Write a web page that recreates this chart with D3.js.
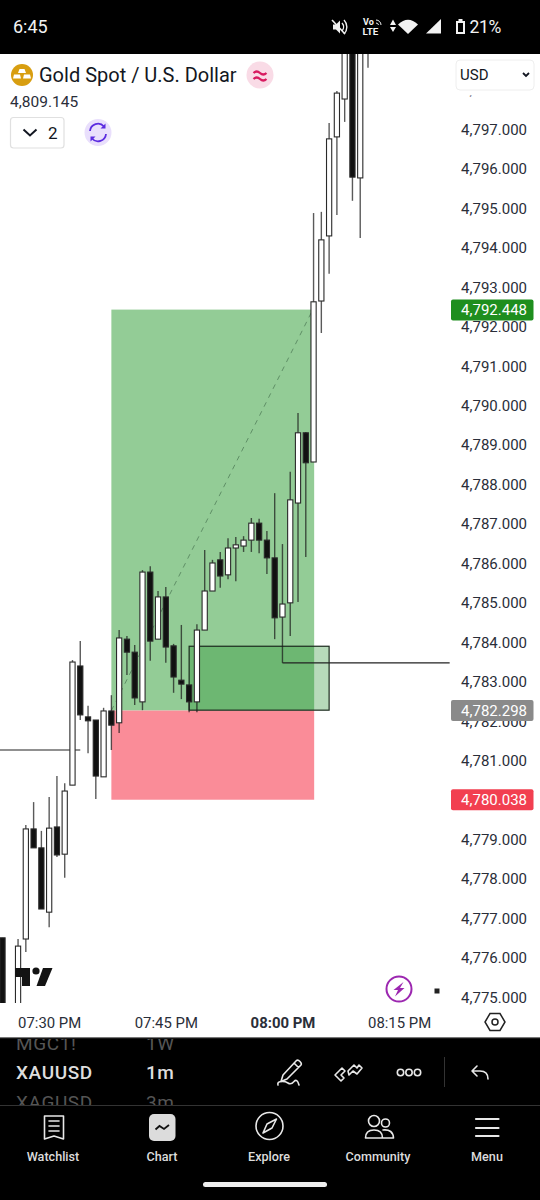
<!DOCTYPE html>
<html><head><meta charset="utf-8">
<script src="https://cdn.jsdelivr.net/npm/d3@7/dist/d3.min.js"></script>
<style>
html,body{margin:0;padding:0;background:#fff;width:540px;height:1200px;overflow:hidden}
svg{display:block}
text{font-family:Roboto,sans-serif}
</style></head><body>
<svg id="c" width="540" height="1200"></svg>
<script>
const opens =[4776.50,4774.00,4774.40,4776.47,4779.26,4778.78,4777.15,4779.31,4778.62,4780.37,4783.39,4782.10,4782.02,4780.58,4782.25,4781.95,4784.07,4783.74,4782.48,4785.77,4784.07,4785.14,4783.90,4783.03,4782.91,4782.48,4784.30,4785.29,4786.08,4785.70,4786.38,4786.43,4786.58,4787.01,4786.58,4786.13,4784.63,4784.99,4787.52,4789.30,4788.56,4792.64,4794.29,4796.80,4797.76,4799.30,4795.76,4799.50];
const highs =[4776.50,4774.40,4776.47,4779.36,4779.94,4779.21,4780.07,4780.60,4780.42,4783.54,4784.02,4782.38,4782.02,4782.33,4782.65,4784.30,4784.15,4783.92,4785.82,4785.92,4785.29,4785.39,4783.95,4784.43,4782.91,4784.45,4786.33,4786.08,4786.28,4786.63,4786.66,4786.68,4787.14,4787.12,4786.81,4787.77,4786.48,4788.31,4789.80,4789.32,4794.87,4794.90,4797.15,4797.96,4799.20,4799.50,4799.60,4800.00];
const lows  =[4774.67,4773.50,4774.30,4776.14,4778.78,4777.23,4776.77,4778.55,4778.02,4780.37,4782.02,4781.18,4780.02,4780.58,4781.26,4781.69,4783.16,4782.40,4782.27,4783.52,4784.07,4783.47,4782.71,4782.55,4782.22,4782.22,4784.30,4785.29,4785.37,4785.59,4785.54,4786.28,4786.28,4786.25,4785.72,4784.07,4783.47,4784.15,4785.01,4786.15,4788.56,4791.83,4793.33,4794.82,4797.18,4795.18,4794.24,4798.55];
const closes=[4774.67,4774.30,4776.29,4779.26,4778.78,4777.23,4779.28,4778.60,4780.22,4783.49,4782.15,4782.00,4780.60,4782.25,4781.89,4784.10,4783.74,4782.58,4785.77,4784.02,4785.14,4783.87,4783.11,4782.93,4782.48,4784.30,4785.29,4786.00,4785.67,4786.38,4786.46,4786.58,4787.01,4786.58,4786.13,4784.61,4784.96,4787.60,4789.30,4788.54,4792.62,4794.19,4796.75,4797.91,4799.00,4795.78,4799.20,4799.90];
const startMinute = 19*60+24;            // first candle: 07:24 PM, 1-minute bars
const yTicks = [4775,4776,4777,4778,4779,4780,4781,4782,4783,4784,4785,4786,4787,4788,4789,4790,4791,4792,4793,4794,4795,4796,4797,4798];
const xTickMinutes = [19*60+30,19*60+45,20*60,20*60+15];
const boldMinute = 20*60;
const targetPrice = 4792.448, entryPrice = 4782.298, stopPrice = 4780.038;
const posStartMin = 19*60+38, posEndMin = 20*60+4;
const boxTop = 4783.89, boxBottom = 4782.27, boxStartMin = 19*60+48, boxEndMin = 20*60+6;
const rayRightPrice = 4783.47, rayRightStart = 20*60, rayRightEnd = 20*60+21.5;
const rayLeftPrice = 4781.26, rayLeftStart = 19*60+15, rayLeftEnd = 19*60+34;
const symbolTitle="Gold Spot / U.S. Dollar", lastPrice="4,809.145";

const day = m => new Date(2026,0,15,Math.floor(m/60),m%60,(m%1)*60);
const x = d3.scaleTime().domain([day(startMinute),day(startMinute+47)]).range([2.5,368]);
const y = d3.scaleLinear().domain([4775,4797]).range([997,129]);
const fmt = d3.format(",.3f");
const svg = d3.select("#c");
svg.append("rect").attr("width",540).attr("height",1200).attr("fill","#fff");
const defs = svg.append("defs");
defs.append("clipPath").attr("id","cp").append("rect").attr("x",0).attr("y",54).attr("width",450).attr("height",949);
defs.append("clipPath").attr("id","cp2").append("rect").attr("x",0).attr("y",1039).attr("width",540).attr("height",66);

const off = 1.5;
const chart = svg.append("g").attr("clip-path","url(#cp)");
const px = m=>x(day(m));
const posW = px(posEndMin)-px(posStartMin)+0.6;
// position tool
chart.append("rect").attr("x",px(posStartMin)).attr("width",posW)
 .attr("y",y(targetPrice)+off-0.5).attr("height",y(entryPrice)-y(targetPrice)+0.5).attr("fill","#93cc96");
chart.append("rect").attr("x",px(posStartMin)).attr("width",posW)
 .attr("y",y(entryPrice)+off).attr("height",y(stopPrice)-y(entryPrice)).attr("fill","#fa8c98");
chart.append("line").attr("x1",px(posStartMin)).attr("x2",px(posEndMin)-1)
 .attr("y1",y(entryPrice)+off).attr("y2",y(targetPrice)+off)
 .attr("stroke","#5f8f66").attr("stroke-width",1).attr("stroke-dasharray","5,5");
// order block box
chart.append("rect").attr("x",px(boxStartMin)).attr("width",px(boxEndMin)-px(boxStartMin))
 .attr("y",y(boxTop)).attr("height",y(boxBottom)-y(boxTop))
 .attr("fill","rgba(30,140,40,0.32)").attr("stroke","#1c2a1e").attr("stroke-width",1.2);
// rays
chart.append("line").attr("x1",px(rayRightStart)).attr("x2",px(rayRightEnd)).attr("y1",y(rayRightPrice)).attr("y2",y(rayRightPrice)).attr("stroke","#222").attr("stroke-width",1.2);
chart.append("line").attr("x1",px(rayLeftStart)).attr("x2",px(rayLeftEnd)).attr("y1",y(rayLeftPrice)).attr("y2",y(rayLeftPrice)).attr("stroke","#222").attr("stroke-width",1.2);
// candles
const candles = opens.map((o,i)=>({t:day(startMinute+i),o,h:highs[i],l:lows[i],c:closes[i]}));
const g = chart.selectAll("g.k").data(candles).join("g").attr("class","k");
g.append("line").attr("x1",d=>x(d.t)).attr("x2",d=>x(d.t)).attr("y1",d=>y(d.h)).attr("y2",d=>y(d.l))
 .attr("stroke","#1a1a1a").attr("stroke-opacity",0.72).attr("stroke-width",1.4);
g.append("rect").attr("x",d=>x(d.t)-2.6).attr("width",5.2)
 .attr("y",d=>y(Math.max(d.o,d.c))).attr("height",d=>Math.max(1,Math.abs(y(d.o)-y(d.c))))
 .attr("fill",d=>d.c>=d.o?"#fff":"#111").attr("stroke","#2a2a2a").attr("stroke-width",1.1);

// TV logo
const logo = svg.append("g").attr("fill","#131313");
logo.append("path").attr("d","M15 968H30V986H22V977H15Z");
logo.append("circle").attr("cx",36).attr("cy",971).attr("r",3.6);
logo.append("path").attr("d","M43 968H52.5L45 986H36.5Z");

// axes
const ya = svg.append("g").attr("transform","translate(527,0.5)")
 .call(d3.axisRight(y).tickValues(yTicks).tickSize(0).tickPadding(0).tickFormat(fmt));
ya.select(".domain").remove();
ya.selectAll("text").attr("text-anchor","end").attr("font-family","Roboto").attr("font-size",15).attr("fill","#2a2e39");

const xa = svg.append("g").attr("transform","translate(0,1017)")
 .call(d3.axisBottom(x).tickValues(xTickMinutes.map(day)).tickSize(0).tickPadding(0).tickFormat(d3.timeFormat("%I:%M %p")));
xa.select(".domain").remove();
xa.selectAll("text").attr("font-family","Roboto").attr("font-size",14.9).attr("fill","#2a2e39")
 .attr("font-weight",d=>d.getHours()*60+d.getMinutes()===boldMinute?700:400);

// price tags
const tags=[[targetPrice,"#1e8e1e","#fff"],[entryPrice,"#8a8a8a","#fff"],[stopPrice,"#f23f50","#fff"]];
tags.forEach(([v,col,tc])=>{
 const cy=y(v)+off;
 svg.append("rect").attr("x",451).attr("y",cy-10.5).attr("width",82.5).attr("height",21).attr("rx",2).attr("fill",col);
 svg.append("text").attr("x",527).attr("y",cy+5.2).attr("text-anchor","end").attr("font-size",15).attr("fill",tc).text(fmt(v));
});

// top black bar
svg.append("rect").attr("width",540).attr("height",54).attr("fill","#000");
const W="#f2f2f2";
svg.append("text").attr("x",13).attr("y",33).attr("font-size",18).attr("fill",W).text("6:45");
// status icons
const st=svg.append("g").attr("fill",W).attr("stroke","none");
st.append("path").attr("d","M333 24.5h3l4-4v13l-4-4h-3z");
st.append("path").attr("d","M342 23a6 6 0 0 1 0 8M344 20a10 10 0 0 1 0 14").attr("fill","none").attr("stroke",W).attr("stroke-width",1.4);
st.append("line").attr("x1",332).attr("y1",20).attr("x2",345).attr("y2",34).attr("stroke",W).attr("stroke-width",1.6);
svg.append("text").attr("x",363).attr("y",25).attr("font-size",9).attr("font-weight",700).attr("fill",W).text("Vo");
svg.append("path").attr("d","M376 20a5 5 0 0 1 5 5M376 23a2.5 2.5 0 0 1 2.5 2").attr("fill","none").attr("stroke",W).attr("stroke-width",1);
svg.append("text").attr("x",362.5).attr("y",35).attr("font-size",9.8).attr("font-weight",700).attr("fill",W).text("LTE");
st.append("path").attr("d","M393 25l-3 0 3-5.5 3 5.5zM393 32l-3-5 6 0z");
st.append("path").attr("d","M398 24.5Q408 15 418 24.5L408 34Z");
st.append("path").attr("d","M426 33.5L441 19V33.5Z");
st.append("path").attr("d","M456 21h2.500v-2h4v2h2.500v13h-9zM458 23v9h5v-9z");
svg.append("text").attr("x",469.500).attr("y",33).attr("font-size",17.500).attr("letter-spacing",-0.300).attr("fill",W).text("21%");

// header
svg.append("circle").attr("cx",22).attr("cy",75).attr("r",11).attr("fill","#d89e10");
svg.append("path").attr("d","M19.5 69h5l1.5 4h-8zM14 74.5h6l1 4h-8zM24 74.5h6l1 4h-8z").attr("fill","#fff");
svg.append("text").attr("x",39).attr("y",82).attr("font-size",20).attr("fill","#131722").text(symbolTitle);
svg.append("circle").attr("cx",260).attr("cy",75).attr("r",13.5).attr("fill","#f9dbe6");
svg.append("path").attr("d","M253.5 73q3.2-3 6.5 0t6.5 0M253.5 79q3.2-3 6.5 0t6.5 0").attr("fill","none").attr("stroke","#d81b60").attr("stroke-width",2.2);
svg.append("text").attr("x",10).attr("y",107).attr("font-size",15.5).attr("fill","#2a2e39").text(lastPrice);
svg.append("rect").attr("x",10.5).attr("y",117.5).attr("width",53.5).attr("height",30.5).attr("rx",3).attr("fill","#fff").attr("stroke","#e0e0e0").attr("stroke-width",1.2);
svg.append("path").attr("d","M23.5 129.5l6.5 6 6.5-6").attr("fill","none").attr("stroke","#131722").attr("stroke-width",2);
svg.append("text").attr("x",48).attr("y",138.5).attr("font-size",17).attr("fill","#131722").text("2");
svg.append("circle").attr("cx",98).attr("cy",132.5).attr("r",13.5).attr("fill","#e9dffc");
svg.append("path").attr("d","M90 131a8 8 0 0 1 14-4.5M106 134a8 8 0 0 1-14 4.5").attr("fill","none").attr("stroke","#5b2be0").attr("stroke-width",1.8);
svg.append("path").attr("d","M105.5 123.5v5h-5zM90.5 141.5v-5h5z").attr("fill","#5b2be0");
// USD box (its white surround hides the upper tick label, leaving only the comma tail)
svg.append("rect").attr("x",452).attr("y",54).attr("width",88).attr("height",41.500).attr("fill","#fff");
svg.append("rect").attr("x",456).attr("y",60).attr("width",78).attr("height",30).attr("rx",4).attr("fill","#fff").attr("stroke","#eeeeee");
svg.append("text").attr("x",460).attr("y",80).attr("font-size",15).attr("fill","#131722").text("USD");
svg.append("path").attr("d","M523 73l3 3 3-3").attr("fill","none").attr("stroke","#131722").attr("stroke-width",1.8);

// lightning + square + hex
svg.append("circle").attr("cx",399).attr("cy",989).attr("r",12.5).attr("fill","#fff").attr("stroke","#9c27b0").attr("stroke-width",2);
svg.append("path").attr("d","M403.5 982l-10 8h4.5l-3 6.5 9.5-8.5h-4.5z").attr("fill","#9c27b0");
svg.append("rect").attr("x",434.5).attr("y",988.5).attr("width",5).attr("height",5).attr("fill","#222");
svg.append("path").attr("d","M490 1013.5h10l5 8.5-5 8.5h-10l-5-8.5z").attr("fill","none").attr("stroke","#222").attr("stroke-width",1.5);
svg.append("circle").attr("cx",495).attr("cy",1022).attr("r",3).attr("fill","none").attr("stroke","#222").attr("stroke-width",1.5);

// bottom
svg.append("rect").attr("y",1037).attr("width",540).attr("height",163).attr("fill","#000");
svg.append("rect").attr("y",1037).attr("width",540).attr("height",1.2).attr("fill","#777");
const sel=svg.append("g").attr("clip-path","url(#cp2)");
const pick=[["MGC1!","1W",1050,"#555",400],["XAUUSD","1m",1079,"#ddd",500],["XAGUSD","3m",1108.500,"#555",400]];
pick.forEach(([a,b,yy,c,w])=>{
 sel.append("text").attr("x",16).attr("y",yy).attr("font-size",19).attr("letter-spacing",0.6).attr("font-weight",w).attr("fill",c).text(a);
 sel.append("text").attr("x",146).attr("y",yy).attr("font-size",19).attr("letter-spacing",0.5).attr("font-weight",w).attr("fill",c).text(b);
});
const ic=svg.append("g").attr("fill","none").attr("stroke","#e8e8e8").attr("stroke-width",1.6).attr("stroke-linecap","round").attr("stroke-linejoin","round");
// pencil
ic.append("path").attr("d","M283 1075l-2 6.500 6-2.500 14-14q1-1.500-1-3.500t-3.500-1zM294 1063l4.500 4.500");
ic.append("path").attr("d","M278 1085q-1-3 3-3.500t7 1.500 6-1.500 5 3.500");
// drawing tools
ic.append("path").attr("d","M335 1075l7-7 3 3-4 4 3 3-3 3zM349 1075l4-4 4 3 5-6-3-3-2 3-3-3-6 6z");
[400.5,409,417.5].forEach(cx=>ic.append("circle").attr("cx",cx).attr("cy",1072.500).attr("r",3.200));
svg.append("line").attr("x1",444.500).attr("x2",444.500).attr("y1",1057).attr("y2",1087).attr("stroke","#333");
ic.append("path").attr("d","M477 1066l-5 5 5 5M472 1071h8q8 0 8 8");
svg.append("line").attr("x1",0).attr("x2",540).attr("y1",1105.5).attr("y2",1105.5).attr("stroke","#333");
// nav
ic.append("path").attr("d","M44.500 1116h19v23l-9.500-3-9.500 3zM49 1121h10M49 1126h10M49 1131h10");
svg.append("rect").attr("x",149).attr("y",1114).attr("width",26.500).attr("height",27).attr("rx",5).attr("fill","#dcdcdc");
svg.append("path").attr("d","M155.500 1129.500l4-3.500 4.500 3 5-4").attr("fill","none").attr("stroke","#111").attr("stroke-width",1.8);
ic.append("circle").attr("cx",269.500).attr("cy",1126).attr("r",13.500);
ic.append("path").attr("d","M263 1133l4-9 9.500-5-4.500 9z");
ic.append("circle").attr("cx",374).attr("cy",1121).attr("r",5.500);
ic.append("circle").attr("cx",385.500).attr("cy",1123).attr("r",4);
ic.append("path").attr("d","M365.500 1138q0-8 8.500-8t8.500 8zM383 1130q10-1 10.500 8h-11");
ic.append("path").attr("d","M476 1119h22.500M476 1128h22.500M476 1136h22.500").attr("stroke-width",2.2);
const nav=[["Watchlist",53],["Chart",162],["Explore",269],["Community",378],["Menu",487]];
nav.forEach(([t,cx])=>svg.append("text").attr("x",cx).attr("y",1161).attr("text-anchor","middle").attr("font-size",12.6).attr("font-weight",500).attr("fill","#dcdcdc").text(t));
svg.append("rect").attr("x",203).attr("y",1182).attr("width",124).attr("height",5).attr("rx",2.5).attr("fill","#eee");
</script>
</body></html>
